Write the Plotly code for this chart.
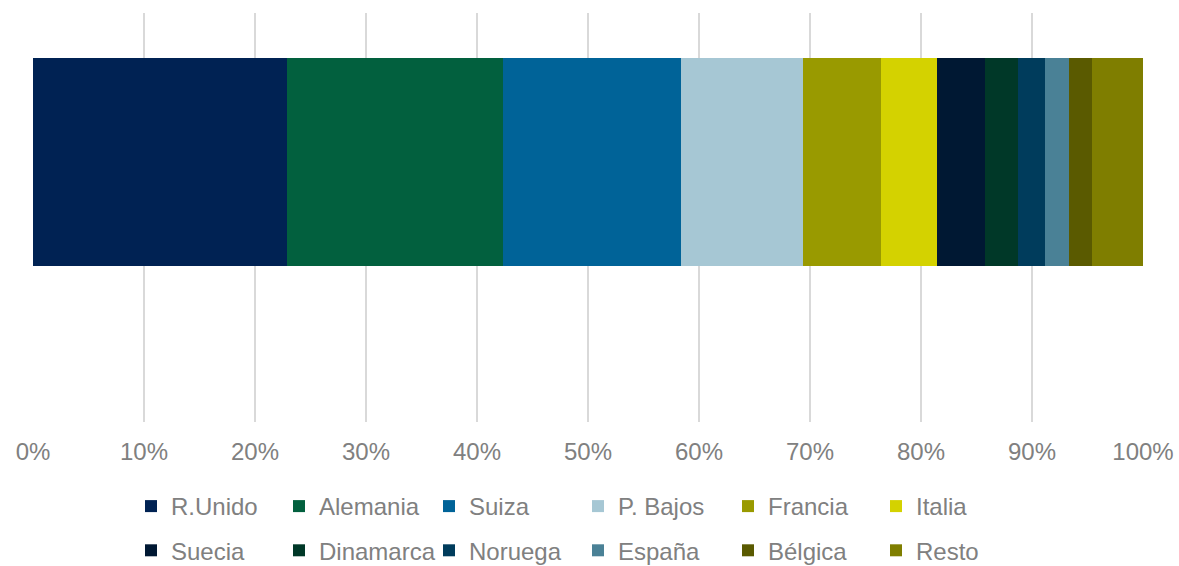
import plotly.graph_objects as go

paises = ["R.Unido", "Alemania", "Suiza", "P. Bajos", "Francia", "Italia",
          "Suecia", "Dinamarca", "Noruega", "España", "Bélgica", "Resto"]
cuotas = [22.9, 19.4, 16.1, 11.0, 7.0, 5.0, 4.4, 2.9, 2.5, 2.1, 2.1, 4.6]
colores = ["#002253", "#02603E", "#006398", "#A6C7D4", "#999A00", "#D4D200",
           "#001833", "#003828", "#003C5C", "#4A8196", "#5A5A00", "#7F7E00"]
ticks_x = [0, 10, 20, 30, 40, 50, 60, 70, 80, 90, 100]
ticks_txt = [f"{t}%" for t in ticks_x]

W, H = 1179, 566
ML, MR, MT, MB = 33, 36, 13, 144
PW = W - ML - MR
PH = H - MT - MB

FONT = "Liberation Sans, Arial, sans-serif"
GRAY = "#808080"

# legend columns (symbol centre pixel x)
col_px = [151, 299, 449, 598, 748, 896]
legend_names = ["legend", "legend2", "legend3", "legend4", "legend5", "legend6"]

fig = go.Figure()
for i, (p, v, c) in enumerate(zip(paises, cuotas, colores)):
    fig.add_trace(go.Bar(
        y=[0], x=[v], width=[1], orientation="h", name=p,
        marker=dict(color=c, line=dict(width=0)),
        legend=legend_names[i % 6], legendgroup=p,
        legendrank=i,
        hovertemplate=p + ": %{x}%<extra></extra>",
    ))

layout_legends = {}
for k, ln in enumerate(legend_names):
    left_px = col_px[k] - 20
    layout_legends[ln] = dict(
        x=(left_px - ML) / PW, xanchor="left",
        y=-(484 - (MT + PH)) / PH, yanchor="top",
        orientation="v", bgcolor="rgba(0,0,0,0)", borderwidth=0,
        font=dict(family=FONT, size=24, color=GRAY),
        tracegroupgap=10, itemclick=False, itemdoubleclick=False,
        traceorder="grouped",
    )

fig.update_layout(
    width=W, height=H,
    margin=dict(l=ML, r=MR, t=MT, b=MB, pad=0, autoexpand=False),
    barmode="stack",
    paper_bgcolor="white", plot_bgcolor="white",
    showlegend=True,
    xaxis=dict(
        range=[0, 100], tickmode="array", tickvals=ticks_x, ticktext=ticks_txt,
        showgrid=True, gridcolor="#d9d9d9", gridwidth=1.5,
        zeroline=False, showline=False, ticks="",
        ticklabelstandoff=13,
        tickfont=dict(family=FONT, size=24, color=GRAY),
        fixedrange=True,
    ),
    yaxis=dict(
        range=[-1.251, 0.718], visible=False, showgrid=False, zeroline=False,
        fixedrange=True,
    ),
    **layout_legends,
)

fig.write_html(
    "out.html",
    config={"displayModeBar": False},
    post_script="document.body.style.margin='0';document.body.style.padding='0';",
)
